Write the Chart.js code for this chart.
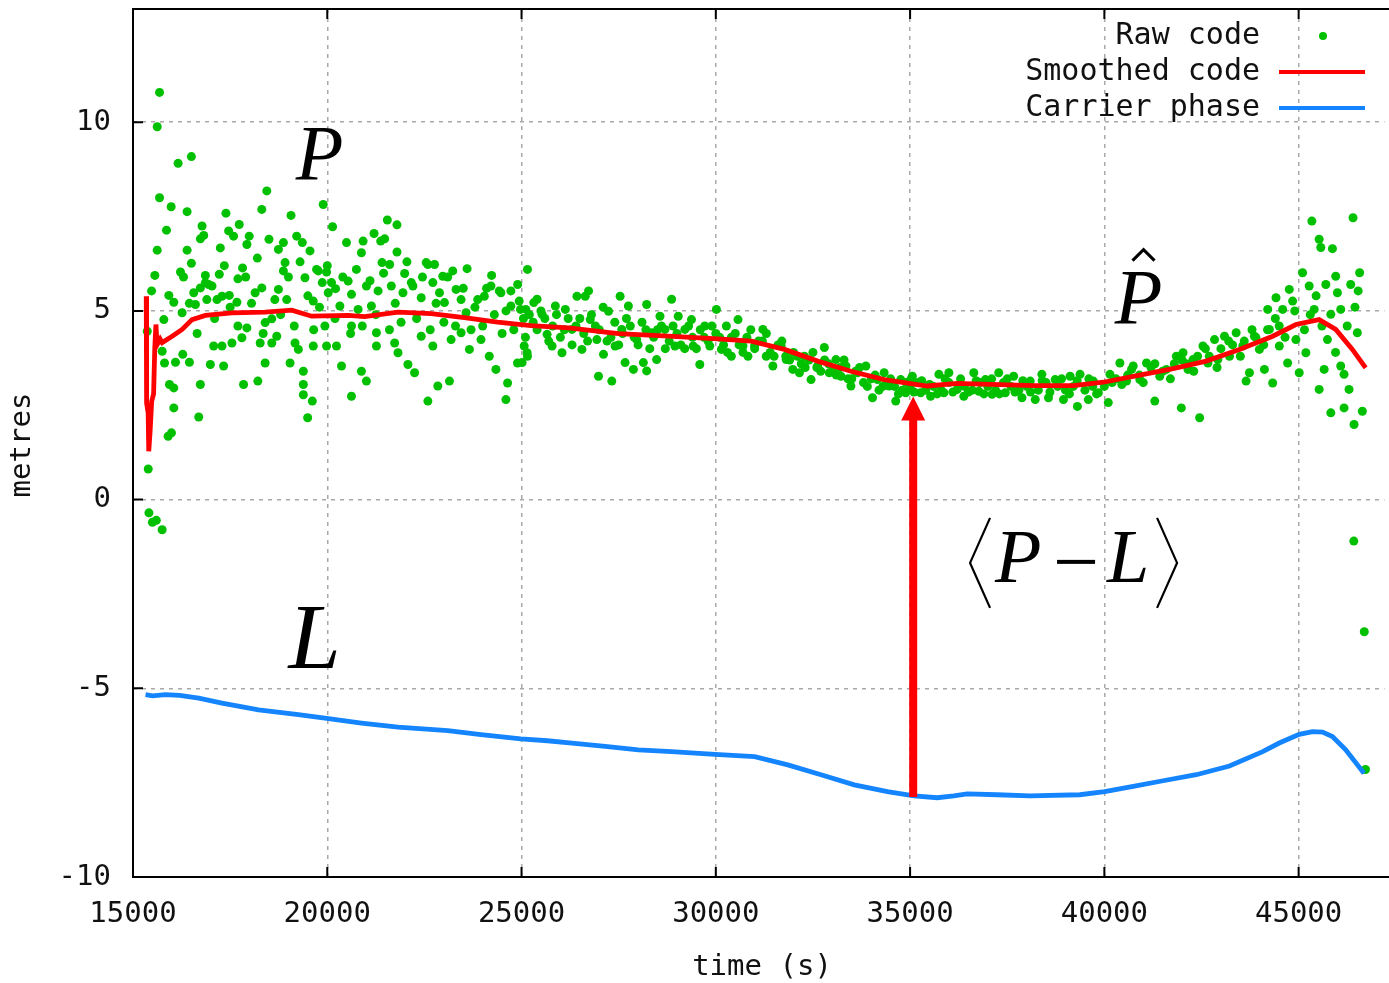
<!DOCTYPE html>
<html>
<head>
<meta charset="utf-8">
<script src="https://cdn.jsdelivr.net/npm/chart.js@4.4.1/dist/chart.umd.min.js"></script>
<style>
  html, body { margin: 0; padding: 0; background: #fff; overflow: hidden; }
  #wrap { width: 1389px; height: 983px; }
</style>
</head>
<body>
<div id="wrap"><canvas id="grafico" width="1389" height="983"></canvas></div>
<script>
// eixos
const xTicks = [15000, 20000, 25000, 30000, 35000, 40000, 45000];
const yTicks = [-10, -5, 0, 5, 10];
const legendLabels = ['Raw code', 'Smoothed code', 'Carrier phase'];

// codigo bruto [tempo, metros]
const rawCode = [
  [15683,10.79],[15623,9.88],[16161,8.91],[16503,9.09],[15683,8.0],[15982,7.76],[16392,7.63],[15862,7.14],
  [15623,6.61],[15563,5.94],[15478,5.53],[16392,6.61],[16503,6.26],[16222,6.03],[16777,7.25],[16734,6.91],
  [16820,7.0],[16862,5.94],[16948,5.70],[17221,5.97],[17247,6.67],[17392,7.59],[17461,7.12],[17589,6.98],
  [17734,7.29],[17700,5.85],[17820,6.14],[17991,6.98],[17931,6.76],[18315,7.69],[18444,8.18],[18743,6.63],
  [18871,6.81],[18914,6.28],[19067,7.53],[19213,6.98],[19358,6.81],[19555,6.59],[19896,7.82],[20136,7.23],
  [19768,6.06],[19982,6.03],[20110,5.75],[20213,5.59],[20538,5.79],[20495,6.81],[20922,6.85],[20879,6.54],
  [21204,7.05],[21375,6.85],[21478,6.91],[21546,7.41],[21794,7.28],[21410,6.28],[21606,6.23],[21794,6.56],
  [21991,5.99],[22162,5.75],[22546,6.28],[22760,6.23],[22973,5.92],[23230,6.06],[23598,6.12],[24230,5.94],
  [24427,5.53],[24726,5.53],[25153,6.10],
  [15922,5.41],[16050,5.23],[16264,4.95],[16563,5.48],[16606,5.17],[16734,5.61],[16862,5.75],[17033,5.66],
  [17162,5.30],[17290,5.39],[17478,5.41],[17674,5.23],[18144,5.48],[18315,5.61],[18401,4.69],[18572,4.79],
  [18743,5.57],[18871,6.06],[18956,5.30],[19426,5.88],[19640,5.26],[19726,6.10],[19871,5.75],[20025,5.48],
  [20324,5.13],[20623,5.44],[20794,5.04],[21008,5.66],[21136,5.13],[21307,5.53],[21649,5.66],[21948,5.48],
  [22204,5.66],[22418,5.35],[22589,6.23],[22717,5.75],[22888,5.48],[23016,5.22],[23315,5.57],[23444,5.30],
  [23572,4.95],[23871,5.30],[24042,5.39],[24213,5.66],[24469,5.48],[24726,5.13],[24939,5.26],[25110,5.04],
  [15367,4.46],[15794,4.77],[15751,3.93],[15811,3.62],[16093,3.64],[16281,3.85],[16452,3.64],[15939,3.05],
  [16050,2.96],[16050,2.43],[15905,1.68],[15990,1.77],[15392,0.81],[16692,2.19],[16734,3.05],[16991,3.58],
  [17076,4.07],[17290,4.07],[17332,3.54],[17546,4.15],[17802,4.29],[17845,3.05],[17931,4.55],[18213,3.14],
  [18273,4.15],[18401,3.62],[18572,4.15],[18700,4.33],[19042,3.62],[19170,4.15],[19256,3.98],[19384,3.40],
  [19384,3.05],[19384,2.78],[19495,2.17],[19615,2.61],[19640,4.07],[19939,4.60],[19982,4.07],[20238,4.07],
  [20367,3.54],[20623,4.60],[20623,2.74],[20879,3.40],[21008,3.14],[21265,4.07],[21265,4.42],[21734,4.15],
  [21820,3.89],[22076,3.58],[22247,3.36],[22418,4.33],[22589,2.61],[22717,4.07],[22845,3.01],[23145,3.14],
  [23187,4.24],[23444,4.42],[23658,3.98],[23957,4.24],[24170,3.80],[24341,3.45],[24598,2.65],[24640,3.09],
  [24896,3.62],[25068,4.07],[25153,3.80],
  [15410,-0.35],[15500,-0.6],[15600,-0.55],[15750,-0.8],
  [16300,5.9],[16450,5.2],[16650,4.4],[16900,5.3],[17100,4.8],[17350,6.2],[17500,5.1],[17700,4.6],
  [17900,5.9],[18050,5.2],[18200,6.4],[18350,4.4],[18500,6.9],[18650,5.3],[18800,4.9],[19000,5.9],
  [19150,4.6],[19300,6.3],[19500,5.4],[19650,4.5],[19800,5.1],[20000,6.2],[20200,4.8],[20400,5.9],
  [20600,4.4],[20750,6.1],[20900,4.6],[21100,5.8],[21250,4.9],[21450,6.0],[21600,4.5],[21750,5.2],
  [21900,4.7],[22050,6.3],[22300,4.8],[22450,5.9],[22650,4.5],[22800,5.2],[23000,4.7],[23100,5.9],
  [23300,4.6],[23500,5.6],[23700,4.5],[23800,5.1],[24000,4.6],[24100,5.6],[24300,4.9],[24500,4.4],
  [24600,5.0],[24800,4.5],[24900,5.7],[25050,4.8],
  [24973,5.04],[25015,3.63],[25144,3.89],[25315,5.22],[25400,5.31],[25528,4.91],[25657,4.38],[25785,4.07],
  [25870,5.13],[26041,3.89],[26127,5.04],[26298,4.51],[26426,5.39],[26554,3.98],[26640,5.39],[26725,5.53],
  [26768,4.77],[26939,4.24],[26981,3.27],[27109,3.85],[27238,4.99],[27323,3.14],[27408,4.07],[27537,5.39],
  [27579,4.51],[27665,3.63],[27750,5.13],[27879,3.45],[27964,4.24],[28135,3.63],[28220,5.17],[28220,3.41],
  [28349,4.42],[28477,3.71],[28563,4.86],[28691,4.51],[28862,5.31],[28947,4.07],[29033,4.86],[29204,4.51],
  [29374,4.77],[29417,4.07],[29588,3.58],[29716,4.6],[29845,4.07],[30015,5.04],[30144,3.98],[30272,4.6],
  [30400,3.80],[30571,4.77],[30699,4.07],[30827,3.80],[30998,4.07],[31212,4.51],[31298,3.80],[31469,3.54],
  [31682,4.07],[31810,3.71],[31981,3.45],[32152,3.36],[32280,3.80],[32451,3.18],[32622,3.54],[32793,4.03],
  [32921,3.36],[33092,3.71],[33221,3.27],[33349,3.54],[33477,3.01],[33648,3.36],[33862,3.54],[34033,2.70],
  [34161,3.18],[34332,3.36],[34460,3.01],[34631,2.61],[34759,3.18],[34887,2.83],[35058,3.27],
  [25200,4.9],[25400,4.5],[25600,4.8],[25800,4.6],[26000,4.3],[26200,4.8],[26400,4.6],[26600,4.4],
  [26800,4.9],[27000,4.5],[27200,4.2],[27400,4.7],[27600,4.4],[27800,4.6],[28000,4.1],[28200,4.5],
  [28400,4.3],[28600,4.6],[28800,4.2],[29000,4.4],[29200,4.0],[29400,4.3],[29600,4.5],[29800,4.2],
  [30000,4.4],[30200,4.1],[30400,4.3],[30600,4.1],[30800,4.3],[31000,4.0],[31200,4.2],[31400,3.9],
  [31600,4.1],[31800,3.8],[32000,3.9],[32200,3.6],[32400,3.7],[32600,3.5],[32800,3.7],[33000,3.4],
  [33200,3.5],[33400,3.2],[33600,3.4],[33800,3.1],[34000,3.2],[34200,2.9],[34400,3.1],[34600,3.0],
  [34800,2.9],[35000,3.0],[35200,3.1],[35400,2.9],[35600,3.0],[35800,2.9],[36000,3.1],[36400,3.0],
  [36600,2.9],[36800,3.1],[37000,3.0],[37200,2.9],[37400,3.1],[37600,3.0],[37800,2.9],[38000,3.0],
  [38300,2.9],[38500,3.1],[38800,3.0],[39000,2.9],[39200,3.0],[39500,2.9],[39700,3.0],[40000,3.0],
  [40300,3.2],[40600,3.3],[40900,3.3],[41200,3.5],[41500,3.4],[41800,3.6],[42100,3.6],[42400,3.8],
  [42700,3.8],[43000,4.0],[43300,4.1],[43600,4.2],[43900,4.3],[44200,4.5],[44500,4.6],
  [25100,4.3],[25300,4.7],[25500,5.0],[25700,4.2],[25900,4.9],[26100,4.5],[26300,4.1],[26500,4.8],
  [26700,4.2],[26900,4.6],[27100,5.1],[27300,4.3],[27500,4.1],[27700,4.8],[27900,4.3],[28100,4.7],
  [28300,4.0],[28500,4.5],[28700,4.0],[28900,4.6],[29100,4.1],[29300,4.6],[29500,4.0],[29700,4.3],
  [29900,4.6],[30100,4.3],[30300,3.9],[30500,4.4],[30700,3.9],[30900,4.5],[31100,4.2],[31300,4.4],
  [31500,3.8],[31700,4.2],[31900,3.7],[32100,3.8],[32300,3.5],[32500,3.9],[32700,3.4],[32900,3.6],
  [33100,3.3],[33300,3.7],[33500,3.2],[33700,3.5],[33900,3.0],[34100,3.3],[34300,3.0],[34500,3.2],
  [34700,2.8],[34900,3.1],
  [35015,3.18],[35272,2.83],[35528,2.74],[35742,3.32],[35870,2.83],[35998,3.36],[36212,2.92],[36383,2.74],
  [36639,3.36],[36768,2.87],[36939,3.18],[37110,2.79],[37281,3.36],[37451,2.83],[37665,3.27],[37879,2.70],
  [38092,3.14],[38221,2.65],[38392,3.32],[38562,2.70],[38733,3.18],[38947,2.65],[39118,3.27],[39306,2.47],
  [39374,3.32],[39588,2.65],[39716,3.14],[39845,2.83],[40101,2.57],[40144,3.32],[40400,3.62],[40571,3.14],
  [40742,3.54],[40913,3.18],[41084,3.62],[41298,2.61],[41426,3.27],[41597,3.45],[41853,3.80],[41981,2.43],
  [42024,3.89],[42152,3.45],[42281,3.71],[42452,2.17],[42537,4.07],[42665,3.62],[42836,4.24],[42921,3.71],
  [43092,4.33],[43221,3.80],[43392,4.42],[43563,4.07],[43648,3.14],[43734,3.36],[43862,4.33],[43990,3.98],
  [44119,3.45],[44204,5.04],[44247,4.51],[44332,3.09],[44418,5.35],[44503,4.07],[44589,5.04],[44717,3.62],
  [44759,5.57],[44845,5.26],[44930,4.24],[45015,3.36],[45101,6.01],[45186,3.89],[45272,5.66],[45341,7.38],
  [45400,5.04],[45528,6.90],[45571,6.68],[45528,2.92],[45657,3.45],[45742,4.24],[45700,5.70],[45828,4.91],
  [45870,6.65],[45828,2.30],[45955,5.92],[45998,5.48],[46084,3.54],[46084,5.04],[46169,2.43],[46169,3.32],
  [46297,2.92],[46340,5.70],[46400,7.47],[46426,1.99],[46511,4.42],[46532,5.53],[46570,6.01],[46640,2.34],
  [35100,2.85],[35300,3.15],[35500,3.05],[35700,2.8],[35900,3.2],[36100,2.85],[36300,3.2],[36500,2.85],
  [36700,3.15],[36900,2.8],[37100,3.2],[37300,2.8],[37500,3.2],[37700,2.85],[37900,3.15],[38100,2.85],
  [38400,3.15],[38600,2.85],[38900,3.2],[39100,2.8],[39300,3.15],[39600,3.2],[39800,2.8],[40200,3.1],
  [40450,3.05],[40700,3.45],[41000,3.1],[41300,3.6],[41700,3.2],[42000,3.7],[42300,3.4],[42600,4.0],
  [42900,3.5],[43200,4.2],[43500,3.8],[43800,4.5],[44100,4.1],[44400,4.8],[44650,4.3],[44900,5.0],
  [45150,4.5],[45300,4.9],[45450,5.4],[45600,4.6],[45950,3.9],[46250,4.6],[46450,5.1],
  [46420,-1.1],[46690,-3.5],[46720,-7.15]
];

// codigo suavizado
const smoothedCode = [
  [15341,5.39],[15350,2.56],[15390,2.3],[15405,1.28],[15440,1.8],[15480,2.6],[15530,2.8],[15560,4.0],
  [15590,4.64],[15620,4.1],[15700,4.25],[15751,4.16],[16008,4.33],[16264,4.51],[16520,4.77],[16862,4.88],
  [17546,4.95],[18400,4.97],[19084,5.02],[19597,4.86],[20538,4.88],[20964,4.85],[21820,4.97],[22674,4.93],
  [23528,4.82],[24384,4.70],[25238,4.61],[26212,4.55],[27494,4.40],[28776,4.33],[30058,4.26],[30912,4.20],
  [31768,3.98],[32622,3.67],[33477,3.40],[34333,3.18],[35187,3.05],[35442,3.01],[36212,3.08],[38178,3.02],
  [39204,3.02],[39973,3.11],[40912,3.30],[41768,3.47],[42622,3.67],[43476,3.98],[44332,4.33],[44930,4.64],
  [45527,4.77],[45955,4.51],[46383,3.98],[46725,3.49]
];

// fase da portadora
const carrierPhase = [
  [15323,-5.17],[15500,-5.2],[15836,-5.17],[16200,-5.19],[16692,-5.26],[17290,-5.39],[18231,-5.57],[19256,-5.70],
  [19939,-5.79],[20880,-5.92],[21820,-6.03],[23102,-6.12],[23956,-6.23],[24982,-6.34],[25666,-6.39],[26297,-6.45],
  [27153,-6.54],[28007,-6.63],[28861,-6.68],[29974,-6.75],[30999,-6.81],[31853,-7.03],[32707,-7.29],[33563,-7.56],
  [34417,-7.74],[35102,-7.85],[35699,-7.90],[36127,-7.85],[36469,-7.80],[37238,-7.82],[38084,-7.85],[39366,-7.82],
  [40007,-7.74],[40743,-7.60],[41512,-7.45],[42366,-7.29],[43220,-7.06],[44076,-6.68],[44502,-6.45],[45015,-6.22],
  [45358,-6.15],[45614,-6.16],[45870,-6.28],[46212,-6.63],[46682,-7.25]
];

// seta <P-L>
const arrowTime = 35080;
const arrowFrom = -7.88;
const arrowTo = 2.73;

const pts = arr => arr.map(p => ({ x: p[0], y: p[1] }));
const mono = '"DejaVu Sans Mono", monospace';

const decor = {
  id: 'decor',
  afterDatasetsDraw(chart) {
    const { ctx, chartArea: a, scales: { x, y } } = chart;
    ctx.save();

    // moldura e marcas
    ctx.strokeStyle = '#000';
    ctx.lineWidth = 2;
    ctx.beginPath();
    ctx.moveTo(a.right + 5, a.top); ctx.lineTo(a.left, a.top);
    ctx.lineTo(a.left, a.bottom); ctx.lineTo(a.right + 5, a.bottom);
    xTicks.forEach(t => {
      const px = x.getPixelForValue(t);
      ctx.moveTo(px, a.bottom); ctx.lineTo(px, a.bottom - 10);
      ctx.moveTo(px, a.top); ctx.lineTo(px, a.top + 10);
    });
    yTicks.forEach(t => {
      const py = y.getPixelForValue(t);
      ctx.moveTo(a.left, py); ctx.lineTo(a.left + 10, py);
    });
    ctx.stroke();

    // seta
    const ax = x.getPixelForValue(arrowTime);
    const ay0 = y.getPixelForValue(arrowFrom);
    const ay1 = y.getPixelForValue(arrowTo);
    ctx.strokeStyle = '#ff0000';
    ctx.fillStyle = '#ff0000';
    ctx.lineWidth = 8;
    ctx.beginPath();
    ctx.moveTo(ax, ay0); ctx.lineTo(ax, ay1 + 20);
    ctx.stroke();
    ctx.beginPath();
    ctx.moveTo(ax, ay1); ctx.lineTo(ax - 12, ay1 + 24); ctx.lineTo(ax + 12, ay1 + 24);
    ctx.closePath(); ctx.fill();

    // anotacoes
    ctx.fillStyle = '#000';
    ctx.strokeStyle = '#000';
    ctx.textAlign = 'center';
    ctx.textBaseline = 'alphabetic';
    ctx.font = 'italic 78px "Liberation Serif", serif';
    ctx.fillText('P', x.getPixelForValue(19800), y.getPixelForValue(8.49));
    const hx = x.getPixelForValue(40879), hy = y.getPixelForValue(4.69);
    ctx.fillText('P', hx, hy);
    ctx.lineWidth = 3;
    ctx.beginPath();
    ctx.moveTo(hx - 6, hy - 62); ctx.lineTo(hx + 5, hy - 73); ctx.lineTo(hx + 16, hy - 62);
    ctx.stroke();
    ctx.font = 'italic 94px "Liberation Serif", serif';
    ctx.fillText('L', x.getPixelForValue(19676), y.getPixelForValue(-4.46));

    // <P - L>
    const bx = x.getPixelForValue(37290), by = y.getPixelForValue(-2.18);
    ctx.font = 'italic 76px "Liberation Serif", serif';
    ctx.textAlign = 'left';
    ctx.fillText('P', bx - 4, by);
    ctx.fillText('L', bx + 108, by);
    ctx.fillRect(bx + 58, by - 22, 38, 4);
    ctx.lineWidth = 2.2;
    ctx.beginPath();
    ctx.moveTo(bx - 9, by - 64); ctx.lineTo(bx - 29, by - 19); ctx.lineTo(bx - 9, by + 26);
    ctx.moveTo(bx + 158, by - 64); ctx.lineTo(bx + 178, by - 19); ctx.lineTo(bx + 158, by + 26);
    ctx.stroke();

    // legenda
    ctx.font = '30px ' + mono;
    ctx.fillStyle = '#111';
    ctx.textAlign = 'right';
    ctx.textBaseline = 'middle';
    const ly = [36, 72, 108];
    legendLabels.forEach((l, i) => ctx.fillText(l, 1260, ly[i]));
    ctx.fillStyle = '#00c000';
    ctx.beginPath(); ctx.arc(1323, ly[0], 4, 0, Math.PI * 2); ctx.fill();
    ctx.lineWidth = 4;
    ctx.strokeStyle = '#ff0000';
    ctx.beginPath(); ctx.moveTo(1279, ly[1]); ctx.lineTo(1365, ly[1]); ctx.stroke();
    ctx.strokeStyle = '#1485ff';
    ctx.beginPath(); ctx.moveTo(1279, ly[2]); ctx.lineTo(1365, ly[2]); ctx.stroke();

    // titulos dos eixos
    ctx.fillStyle = '#111';
    ctx.font = '29px ' + mono;
    ctx.textAlign = 'center';
    ctx.fillText('time (s)', 762, 967);
    ctx.translate(22, 445);
    ctx.rotate(-Math.PI / 2);
    ctx.fillText('metres', 0, 0);
    ctx.restore();
  }
};

const ctxGrafico = document.getElementById('grafico').getContext('2d');
const grafico = new Chart(ctxGrafico, {
  type: 'scatter',
  data: {
    datasets: [
      {
        label: legendLabels[1],
        type: 'line',
        data: pts(smoothedCode),
        borderColor: '#ff0000',
        borderWidth: 4.8,
        pointRadius: 0,
        tension: 0,
        order: 0
      },
      {
        label: legendLabels[2],
        type: 'line',
        data: pts(carrierPhase),
        borderColor: '#1485ff',
        borderWidth: 4.8,
        pointRadius: 0,
        tension: 0,
        order: 1
      },
      {
        label: legendLabels[0],
        data: pts(rawCode),
        backgroundColor: '#00c000',
        borderWidth: 0,
        pointRadius: 4.5,
        order: 2
      }
    ]
  },
  options: {
    responsive: false,
    animation: false,
    layout: { padding: { top: 9, left: 0, right: 0, bottom: 0 } },
    plugins: { legend: { display: false }, tooltip: { enabled: false } },
    scales: {
      x: {
        type: 'linear',
        min: 15000,
        max: 47210,
        afterBuildTicks: s => { s.ticks = xTicks.map(v => ({ value: v })); },
        afterFit: s => { s.height = 106; s.paddingLeft = 0; s.paddingRight = 0; },
        ticks: { stepSize: 5000, autoSkip: false, padding: 20, color: '#111', font: { family: mono, size: 29 }, maxRotation: 0, callback: v => String(v) },
        grid: { color: '#a8a8a8', lineWidth: 1.5, drawTicks: false },
        border: { display: false, dash: [4, 5] }
      },
      y: {
        min: -10,
        max: 13,
        afterBuildTicks: s => { s.ticks = yTicks.map(v => ({ value: v })); },
        afterFit: s => { s.width = 133; s.paddingTop = 0; s.paddingBottom = 0; },
        ticks: { stepSize: 5, autoSkip: false, padding: 22, color: '#111', font: { family: mono, size: 29 } },
        grid: { color: '#a8a8a8', lineWidth: 1.5, drawTicks: false },
        border: { display: false, dash: [4, 5] }
      }
    }
  },
  plugins: [decor]
});
</script>
</body>
</html>
